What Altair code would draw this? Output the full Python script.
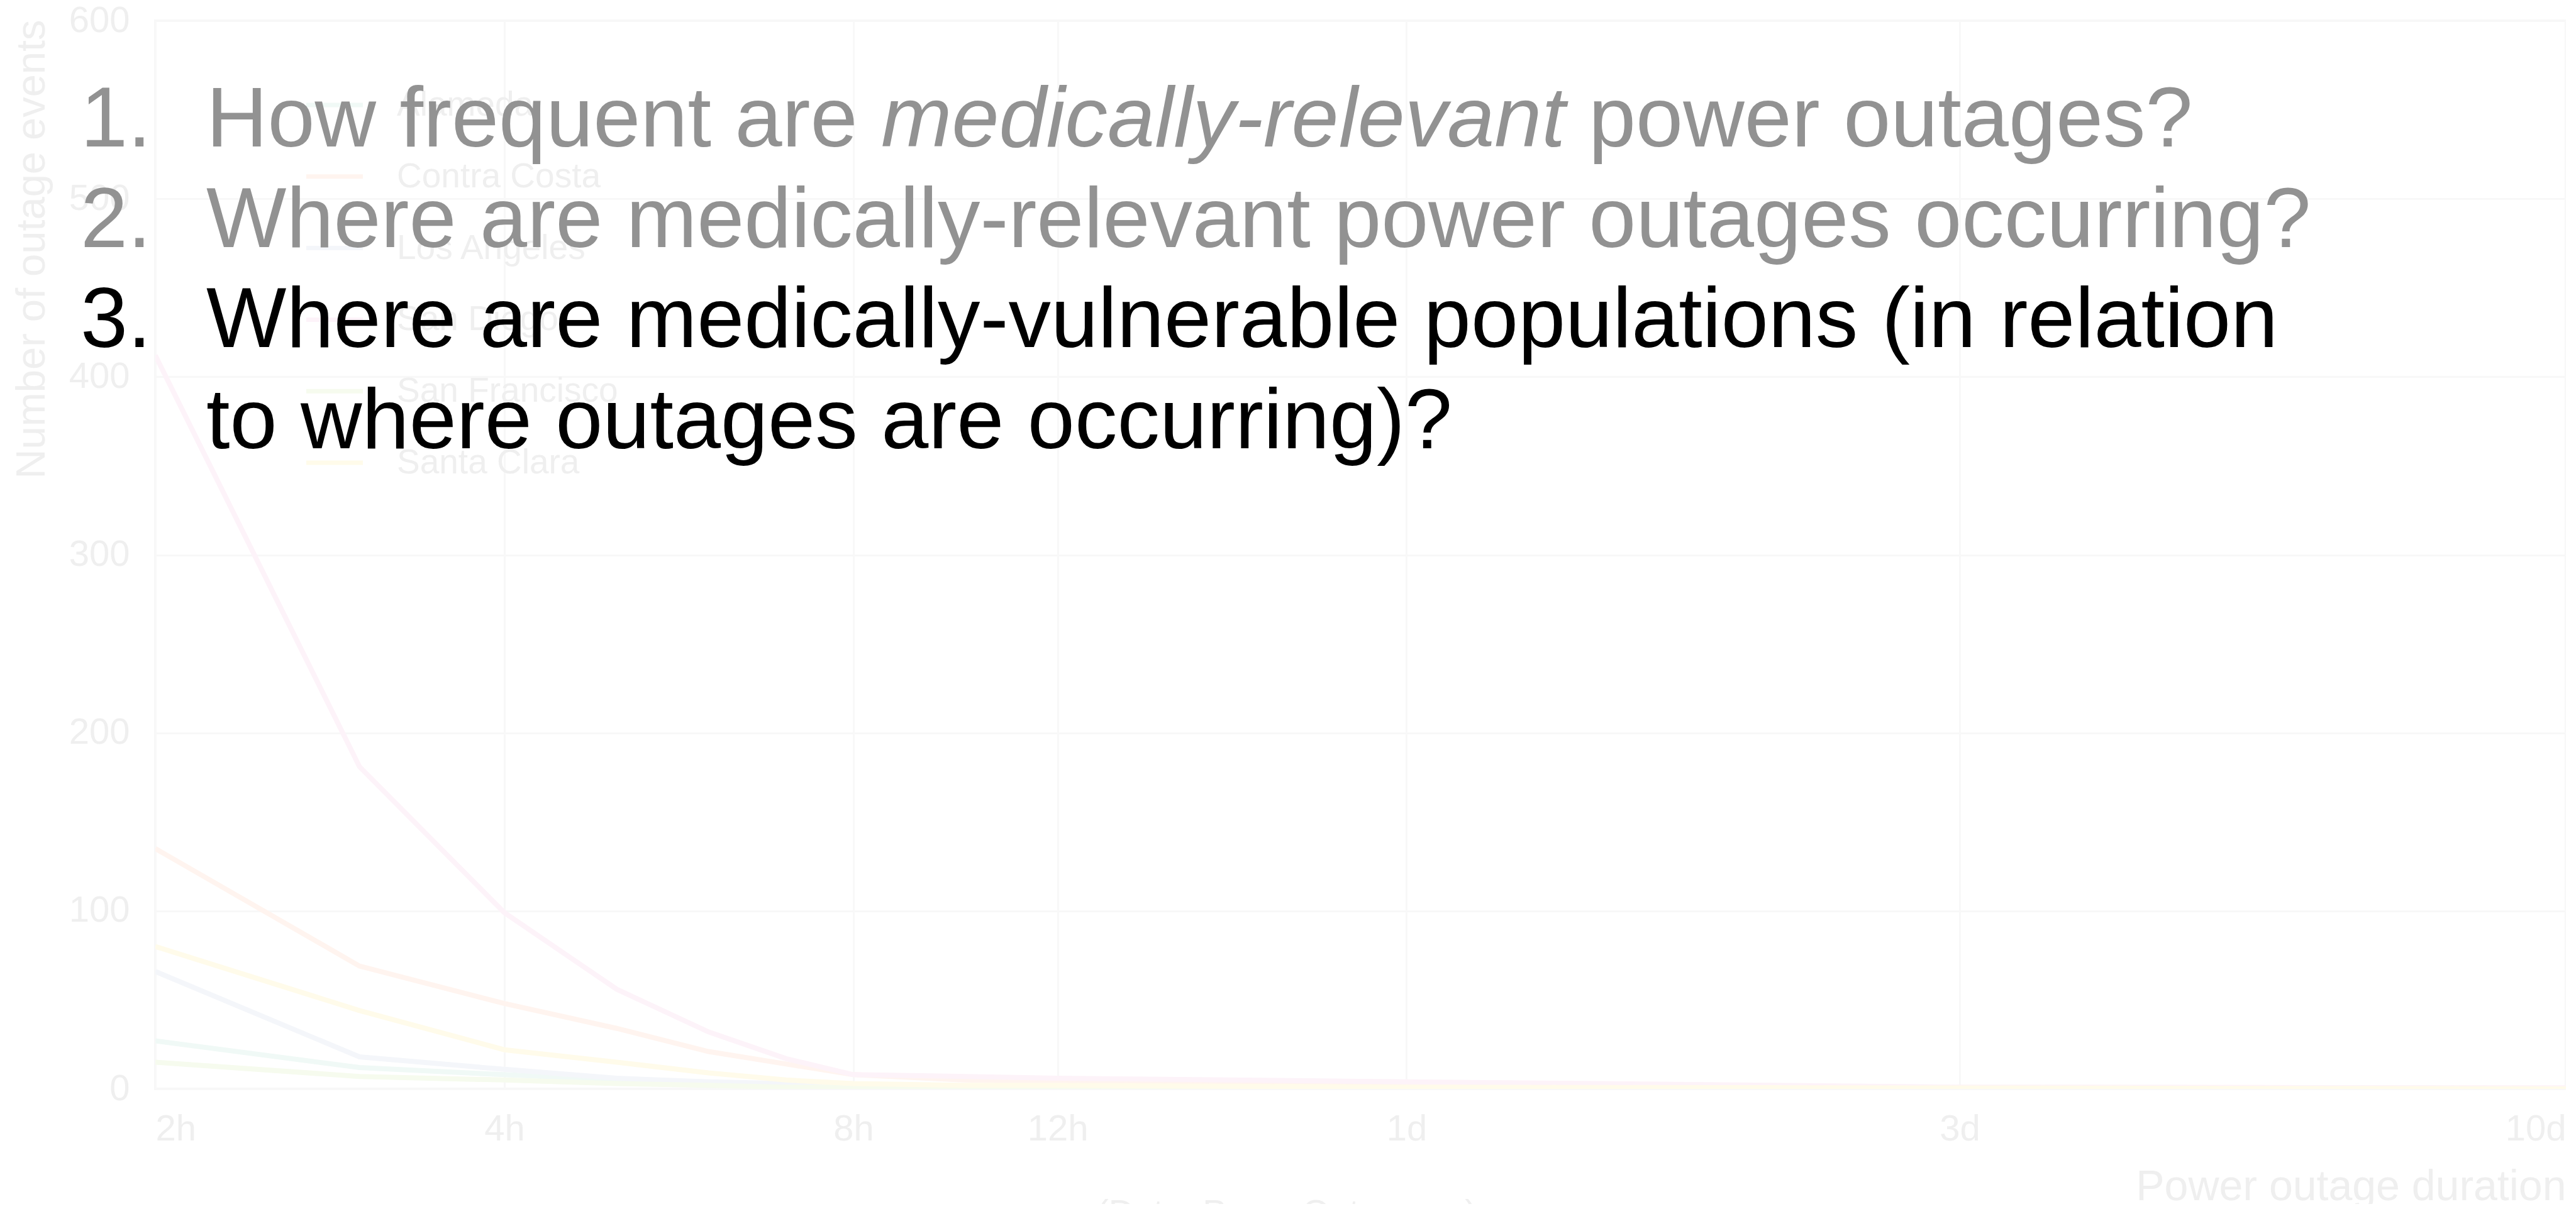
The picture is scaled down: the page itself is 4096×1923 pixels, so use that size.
import altair as alt
import pandas as pd

# ---------------- data ----------------
counties = ["Alameda", "Contra Costa", "Los Angeles", "San Diego", "San Francisco", "Santa Clara"]
hours = [2, 3, 4, 5, 6, 7, 8, 10, 12, 24, 72, 240]
alameda = [27, 12, 8, 5, 3, 2, 1, 1, 1, 0.5, 0, 0]
contra_costa = [135, 69, 48, 34, 21, 14, 8, 5, 4, 2, 1, 0.5]
los_angeles = [66, 18, 11, 6, 4, 3, 2, 1, 1, 0.5, 0, 0]
san_diego = [412, 181, 99, 56, 32, 17, 8, 7, 6, 4, 1, 0.5]
san_francisco = [15, 7, 5, 3, 2, 1, 1, 0.5, 0.5, 0, 0, 0]
santa_clara = [80, 44, 22, 15, 9, 5, 3, 2, 2, 1, 0.5, 0]

tick_hours = [2, 4, 8, 12, 24, 72, 240]
tick_labels = ["2h", "4h", "8h", "12h", "1d", "3d", "10d"]
y_ticks = [0, 100, 200, 300, 400, 500, 600]

q_numbers = ["1.", "2.", "3."]
q1_parts = ["How frequent are", "medically-relevant", "power outages?"]
q2_text = "Where are medically-relevant power outages occurring?"
q3_lines = ["Where are medically-vulnerable populations (in relation",
            "to where outages are occurring)?"]
caption = "(Data: PowerOutage.us)"

# faded Set2 palette (chart is washed out behind the slide text)
faded = ["#f0f9f6", "#fff4ef", "#f4f6fa", "#fdf3f9", "#f6fbee", "#fffbea"]

series = {
    "Alameda": alameda, "Contra Costa": contra_costa, "Los Angeles": los_angeles,
    "San Diego": san_diego, "San Francisco": san_francisco, "Santa Clara": santa_clara,
}
df = pd.DataFrame([
    {"county": c, "hours": h, "events": v}
    for c in counties for h, v in zip(hours, series[c])
])
leg_df = pd.DataFrame({"county": counties, "slot": list(range(len(counties)))})

label_expr = " : ".join(
    f"datum.value == {h} ? '{l}'" for h, l in zip(tick_hours, tick_labels)
) + " : ''"

SANS = "Liberation Sans, Arial, Helvetica"
FAINT = "#efefef"
W, H = 3833, 1699

color_scale = alt.Scale(domain=counties, range=faded)

lines = alt.Chart(df).mark_line(strokeWidth=8, clip=True).encode(
    x=alt.X("hours:Q",
            scale=alt.Scale(type="log", domain=[2, 240], nice=False),
            axis=alt.Axis(values=tick_hours, labelExpr=label_expr, grid=True,
                          gridColor="#f8f8f8", gridWidth=3, domain=False,
                          ticks=False, labelFont=SANS, labelFontSize=58,
                          labelColor=FAINT, labelPadding=35, labelFlush=True,
                          labelBaseline="top",
                          titleFont=SANS, titleFontSize=68, titleColor=FAINT,
                          titleFontWeight="normal", titleX=W, titleY=176,
                          titleAlign="right", titleBaseline="alphabetic"),
            title="Power outage duration"),
    y=alt.Y("events:Q",
            scale=alt.Scale(domain=[0, 600], nice=False),
            axis=alt.Axis(values=y_ticks, grid=True, gridColor="#f8f8f8",
                          gridWidth=3, domain=False, ticks=False,
                          labelFont=SANS, labelFontSize=58, labelColor=FAINT,
                          labelPadding=41, labelAlign="right",
                          labelBaseline="middle",
                          titleFont=SANS, titleFontSize=65, titleColor=FAINT,
                          titleFontWeight="normal", titleAngle=270,
                          titleX=-177, titleY=-2, titleAlign="right",
                          titleBaseline="alphabetic"),
            title="Number of outage events"),
    color=alt.Color("county:N", scale=color_scale, legend=None),
    order=alt.Order("hours:Q"),
)

leg_y = alt.Y("slot:Q", scale=alt.Scale(domain=[0, 5], range=[134, 703]), axis=None)
leg_rule = alt.Chart(leg_df).mark_rule(strokeWidth=7).encode(
    x=alt.value(240), x2=alt.value(330), y=leg_y,
    color=alt.Color("county:N", scale=color_scale, legend=None),
)
leg_text = alt.Chart(leg_df).mark_text(
    align="left", baseline="middle", font=SANS, fontSize=55, color=FAINT
).encode(x=alt.value(384), y=leg_y, text="county:N")

GRAY = "#929292"
BLACK = "#000000"
FS = 135


def txt(s, x, y, color, style="normal", font=SANS, size=FS, align="left",
        baseline="alphabetic"):
    return alt.Chart(pd.DataFrame({"label": [s]})).mark_text(
        align=align, baseline=baseline, font=font, fontSize=size,
        fontStyle=style, color=color,
    ).encode(x=alt.value(x), y=alt.value(y), text="label:N")


texts = [
    txt(q_numbers[0], -119, 200, GRAY),
    txt(q1_parts[0], 81, 200, GRAY),
    txt(q1_parts[1], 1154, 200, GRAY, style="italic"),
    txt(q1_parts[2], 2279, 200, GRAY),
    txt(q_numbers[1], -119, 360, GRAY),
    txt(q2_text, 81, 360, GRAY),
    txt(q_numbers[2], -119, 519, BLACK),
    txt(q3_lines[0], 81, 519, BLACK),
    txt(q3_lines[1], 81, 680, BLACK),
    txt(caption, 1799, 1870, FAINT, size=56, align="center", baseline="top"),
]

chart = alt.layer(lines, leg_rule, leg_text, *texts).resolve_scale(
    y="independent"
).properties(
    width=W, height=H,
    padding={"left": 239, "top": 25, "right": 0, "bottom": 183},
    autosize=alt.AutoSizeParams(type="none"),
    background="white",
).configure_view(stroke="#f7f7f7", strokeWidth=4)

chart.save("out.html", embed_options={"renderer": "svg", "actions": False})
